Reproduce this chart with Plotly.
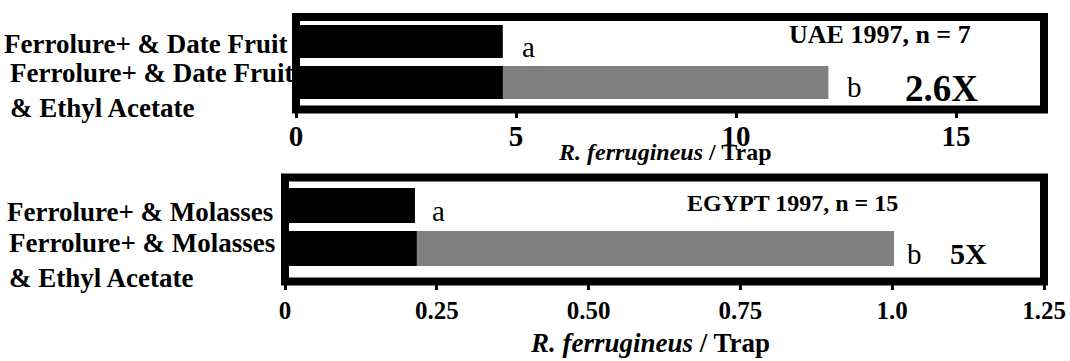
import plotly.graph_objects as go

# ---- data ----
top_labels = ["Ferrolure+ & Date Fruit", "Ferrolure+ & Date Fruit<br>& Ethyl Acetate"]
top_base = [4.7, 4.7]          # black portion (Ferrolure+ & Date Fruit)
top_total = [None, 12.1]        # total with Ethyl Acetate
top_letters = ["a", "b"]
top_title = "UAE 1997, n = 7"
top_fold = "2.6X"
top_ticks = [0, 5, 10, 15]
top_ticktext = ["0", "5", "10", "15"]

bot_labels = ["Ferrolure+ & Molasses", "Ferrolure+ & Molasses<br>& Ethyl Acetate"]
bot_base = [0.214, 0.217]
bot_total = [None, 1.003]
bot_letters = ["a", "b"]
bot_title = "EGYPT 1997, n = 15"
bot_fold = "5X"
bot_ticks = [0, 0.25, 0.5, 0.75, 1.0, 1.25]
bot_ticktext = ["0", "0.25", "0.50", "0.75", "1.0", "1.25"]

xlabel = "<i>R. ferrugineus</i> / Trap"

W, H = 1070, 361
FONT = "Liberation Serif, Times New Roman, serif"
BLACK = "#000000"
GRAY = "#808080"


def px_x(p):
    return p / W


def px_y(p):
    return 1 - p / H


fig = go.Figure()
pos = [0, 1]

# top panel
fig.add_trace(go.Bar(y=pos, x=top_total, orientation="h", marker=dict(color=GRAY, line=dict(width=0)),
                     width=0.8, xaxis="x", yaxis="y", showlegend=False))
fig.add_trace(go.Bar(y=pos, x=top_base, orientation="h", marker=dict(color=BLACK, line=dict(width=0)),
                     width=0.8, xaxis="x", yaxis="y", showlegend=False))
# bottom panel
fig.add_trace(go.Bar(y=pos, x=bot_total, orientation="h", marker=dict(color=GRAY, line=dict(width=0)),
                     width=0.81, xaxis="x2", yaxis="y2", showlegend=False))
fig.add_trace(go.Bar(y=pos, x=bot_base, orientation="h", marker=dict(color=BLACK, line=dict(width=0)),
                     width=0.81, xaxis="x2", yaxis="y2", showlegend=False))

tick_common = dict(ticks="outside", ticklen=7, tickwidth=3, tickcolor=BLACK, showgrid=False,
                   zeroline=False, showline=False, automargin=False)

fig.update_layout(
    width=W, height=H, autosize=False, margin=dict(l=0, r=0, t=0, b=0, autoexpand=False),
    paper_bgcolor="white", plot_bgcolor="white", barmode="overlay",
    font=dict(family=FONT, color=BLACK),
    xaxis=dict(domain=[px_x(296), px_x(1044)], range=[0, 17], anchor="y",
               tickvals=top_ticks, ticktext=top_ticktext,
               tickfont=dict(size=29, family=FONT, weight="bold"), ticklabelstandoff=-6, **tick_common),
    yaxis=dict(domain=[px_y(109.5), px_y(17)], range=[1.659, -0.598], anchor="x", automargin=False,
               showticklabels=False, ticks="", showgrid=False, zeroline=False),
    xaxis2=dict(domain=[px_x(285), px_x(1044)], range=[0, 1.25], anchor="y2",
                tickvals=bot_ticks, ticktext=bot_ticktext,
                tickfont=dict(size=25, family=FONT, weight="bold"), ticklabelstandoff=-1, **tick_common),
    yaxis2=dict(domain=[px_y(281.5), px_y(177.5)], range=[1.767, -0.651], anchor="x2", automargin=False,
                showticklabels=False, ticks="", showgrid=False, zeroline=False),
)

# frames
for xr, yr in (("x domain", "y domain"), ("x2 domain", "y2 domain")):
    fig.add_shape(type="rect", xref=xr, yref=yr, x0=0, x1=1, y0=0, y1=1,
                  line=dict(color=BLACK, width=8), fillcolor="rgba(0,0,0,0)", layer="above")

ann = []
bold = dict(family=FONT, color=BLACK, weight="bold")

# category labels
for labels, yref, xs, shifts in ((top_labels, "y", [2, 8], [-2, -8]),
                                  (bot_labels, "y2", [5, 7], [-6, -12])):
    for i, lab in enumerate(labels):
        ann.append(dict(text=lab, x=px_x(xs[i]), xref="paper", y=pos[i], yref=yref,
                        xanchor="left", yanchor="middle", align="left", showarrow=False,
                        yshift=shifts[i], font=dict(size=27, **bold)))

# significance letters
for base, total, letters, xr, yr, shifts in ((top_base, top_total, top_letters, "x", "y", [17, 17]),
                                              (bot_base, bot_total, bot_letters, "x2", "y2", [15, 11])):
    for i, let in enumerate(letters):
        xv = total[i] if total[i] is not None else base[i]
        ann.append(dict(text=let, x=xv, xref=xr, y=pos[i], yref=yr, xanchor="left", yanchor="middle",
                        showarrow=False, xshift=shifts[i], yshift=-5,
                        font=dict(size=29, family=FONT, color=BLACK)))

# titles inside frames
ann.append(dict(text=top_title, x=px_x(787), xref="paper", y=px_y(35), yref="paper", xanchor="left",
                yanchor="middle", showarrow=False, font=dict(size=26, **bold)))
ann.append(dict(text=bot_title, x=px_x(685), xref="paper", y=px_y(203.5), yref="paper", xanchor="left",
                yanchor="middle", showarrow=False, font=dict(size=24, **bold)))
ann.append(dict(text=top_fold, x=px_x(903), xref="paper", y=px_y(88), yref="paper", xanchor="left",
                yanchor="middle", showarrow=False, font=dict(size=37, **bold)))
ann.append(dict(text=bot_fold, x=px_x(948), xref="paper", y=px_y(253), yref="paper", xanchor="left",
                yanchor="middle", showarrow=False, font=dict(size=30, **bold)))

# axis titles
ann.append(dict(text=xlabel, x=px_x(665), xref="paper", y=px_y(152), yref="paper", xanchor="center",
                yanchor="middle", showarrow=False, font=dict(size=24, **bold)))
ann.append(dict(text=xlabel, x=px_x(650), xref="paper", y=0, yref="paper", xanchor="center",
                yanchor="bottom", yshift=1, showarrow=False, font=dict(size=27, **bold)))

fig.update_layout(annotations=ann)

page_fix = """
var s = document.createElement('style');
s.textContent = 'html,body{margin:0;padding:0;overflow:hidden;}';
document.head.appendChild(s);
"""
fig.write_html(
    "out.html",
    config={"responsive": False, "displayModeBar": False},
    post_script=page_fix,
)
